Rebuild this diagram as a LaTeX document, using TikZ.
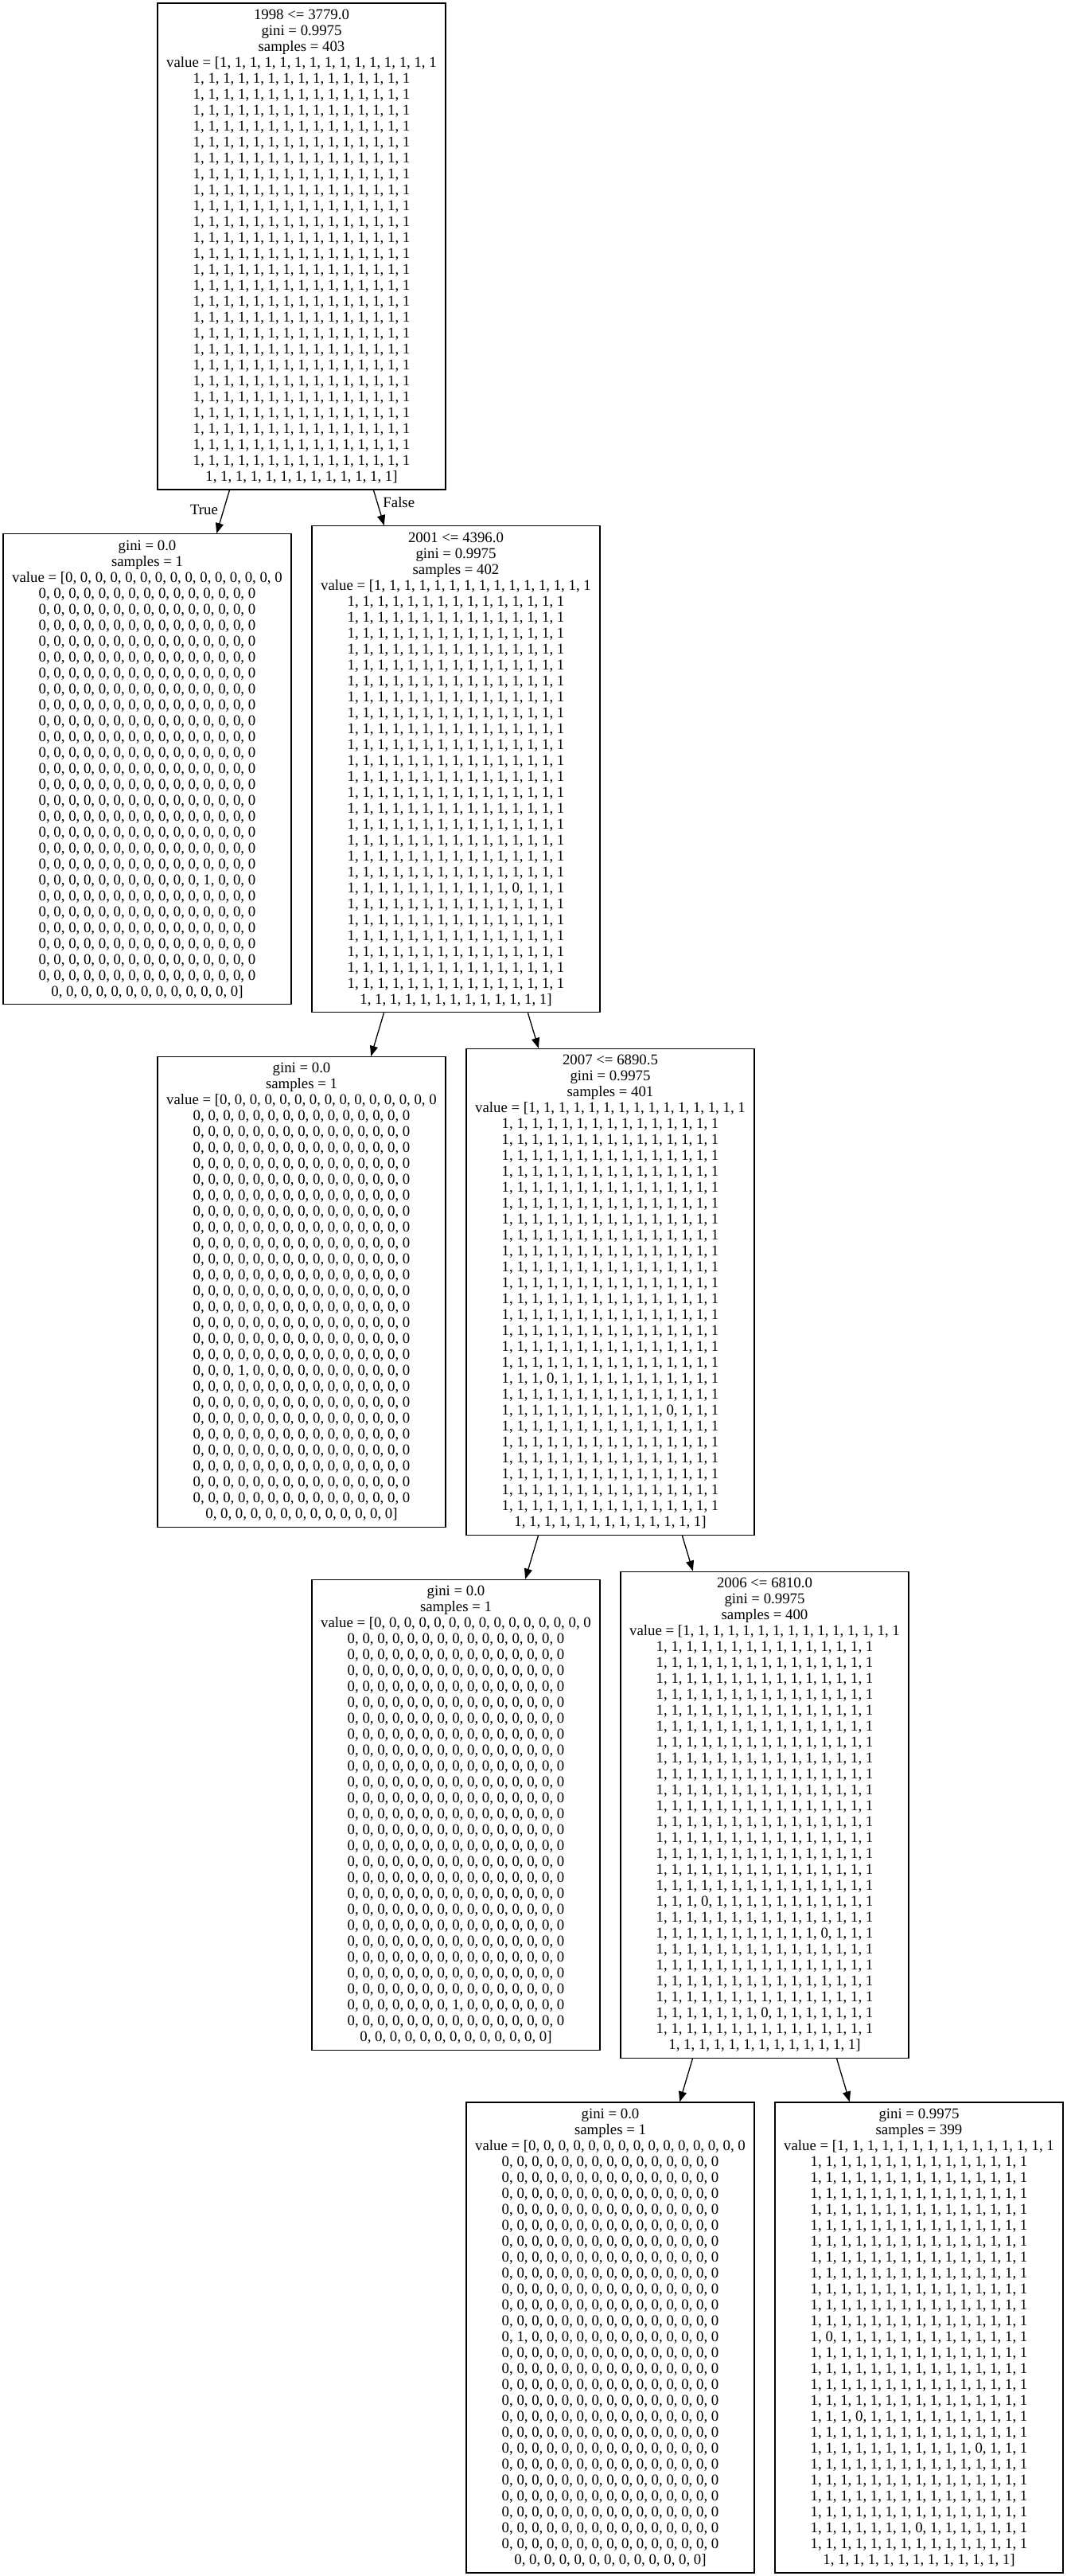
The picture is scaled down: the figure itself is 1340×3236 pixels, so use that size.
\documentclass[tikz,border=0pt]{standalone}
\usepackage{fontspec}
\setmainfont{Liberation Serif}
\usepackage{tikz}
\usetikzlibrary{arrows.meta}

% rows of the value arrays (15 classes per line, 403 in all)
\newcommand{\onerow}{1, 1, 1, 1, 1, 1, 1, 1, 1, 1, 1, 1, 1, 1, 1}
\newcommand{\zerorow}{0, 0, 0, 0, 0, 0, 0, 0, 0, 0, 0, 0, 0, 0, 0}
\newcommand{\onelast}{1, 1, 1, 1, 1, 1, 1, 1, 1, 1, 1, 1, 1]}
\newcommand{\zerolast}{0, 0, 0, 0, 0, 0, 0, 0, 0, 0, 0, 0, 0]}
\ExplSyntaxOn
\cs_new_eq:NN \reprows \prg_replicate:nn
\ExplSyntaxOff

\begin{document}
\begin{tikzpicture}[x=0.5pt, y=-0.5pt,
    font=\fontsize{9.4}{10}\selectfont,
    splitbox/.style={draw, line width=0.65pt, rectangle, inner sep=0pt, align=center,
        minimum width=181pt, minimum height=305.5pt},
    leafbox/.style={splitbox, minimum height=295.5pt},
    arrowline/.style={-{Triangle[length=6.5pt,width=5pt]}, line width=0.65pt}]
    \useasboundingbox (0,0) rectangle (1340,3236);

    % Decision nodes and leaves
    \node[splitbox] (s0) at (379,309.5) {1998 <= 3779.0\\gini = 0.9975\\samples = 403\\%
        value = [\onerow\\\reprows{25}{\onerow\\}\onelast};
    \node[leafbox] (l1) at (185,966.25) {gini = 0.0\\samples = 1\\%
        value = [\zerorow\\\reprows{18}{\zerorow\\}%
        0, 0, 0, 0, 0, 0, 0, 0, 0, 0, 0, 1, 0, 0, 0\\%
        \reprows{6}{\zerorow\\}\zerolast};
    \node[splitbox] (s1) at (573,966.25) {2001 <= 4396.0\\gini = 0.9975\\samples = 402\\%
        value = [\onerow\\\reprows{18}{\onerow\\}%
        1, 1, 1, 1, 1, 1, 1, 1, 1, 1, 1, 0, 1, 1, 1\\%
        \reprows{6}{\onerow\\}\onelast};
    \node[leafbox] (l2) at (379,1623) {gini = 0.0\\samples = 1\\%
        value = [\zerorow\\\reprows{16}{\zerorow\\}%
        0, 0, 0, 1, 0, 0, 0, 0, 0, 0, 0, 0, 0, 0, 0\\%
        \reprows{8}{\zerorow\\}\zerolast};
    \node[splitbox] (s2) at (767,1623) {2007 <= 6890.5\\gini = 0.9975\\samples = 401\\%
        value = [\onerow\\\reprows{16}{\onerow\\}%
        1, 1, 1, 0, 1, 1, 1, 1, 1, 1, 1, 1, 1, 1, 1\\\onerow\\%
        1, 1, 1, 1, 1, 1, 1, 1, 1, 1, 1, 0, 1, 1, 1\\%
        \reprows{6}{\onerow\\}\onelast};
    \node[leafbox] (l3) at (573,2279.75) {gini = 0.0\\samples = 1\\%
        value = [\zerorow\\\reprows{23}{\zerorow\\}%
        0, 0, 0, 0, 0, 0, 0, 1, 0, 0, 0, 0, 0, 0, 0\\%
        \zerorow\\\zerolast};
    \node[splitbox] (s3) at (961,2279.75) {2006 <= 6810.0\\gini = 0.9975\\samples = 400\\%
        value = [\onerow\\\reprows{16}{\onerow\\}%
        1, 1, 1, 0, 1, 1, 1, 1, 1, 1, 1, 1, 1, 1, 1\\\onerow\\%
        1, 1, 1, 1, 1, 1, 1, 1, 1, 1, 1, 0, 1, 1, 1\\%
        \reprows{4}{\onerow\\}%
        1, 1, 1, 1, 1, 1, 1, 0, 1, 1, 1, 1, 1, 1, 1\\%
        \onerow\\\onelast};
    \node[leafbox] (l4) at (767,2936.5) {gini = 0.0\\samples = 1\\%
        value = [\zerorow\\\reprows{11}{\zerorow\\}%
        0, 1, 0, 0, 0, 0, 0, 0, 0, 0, 0, 0, 0, 0, 0\\%
        \reprows{13}{\zerorow\\}\zerolast};
    \node[leafbox] (l5) at (1155,2936.5) {gini = 0.9975\\samples = 399\\%
        value = [\onerow\\\reprows{11}{\onerow\\}%
        1, 0, 1, 1, 1, 1, 1, 1, 1, 1, 1, 1, 1, 1, 1\\%
        \reprows{4}{\onerow\\}%
        1, 1, 1, 0, 1, 1, 1, 1, 1, 1, 1, 1, 1, 1, 1\\\onerow\\%
        1, 1, 1, 1, 1, 1, 1, 1, 1, 1, 1, 0, 1, 1, 1\\%
        \reprows{4}{\onerow\\}%
        1, 1, 1, 1, 1, 1, 1, 0, 1, 1, 1, 1, 1, 1, 1\\%
        \onerow\\\onelast};

    % Edges
    \draw[arrowline] (s0) -- node[left, pos=0.45] {True} (l1);
    \draw[arrowline] (s0) -- node[right, pos=0.35] {False} (s1);
    \draw[arrowline] (s1) -- (l2);
    \draw[arrowline] (s1) -- (s2);
    \draw[arrowline] (s2) -- (l3);
    \draw[arrowline] (s2) -- (s3);
    \draw[arrowline] (s3) -- (l4);
    \draw[arrowline] (s3) -- (l5);
\end{tikzpicture}
\end{document}
